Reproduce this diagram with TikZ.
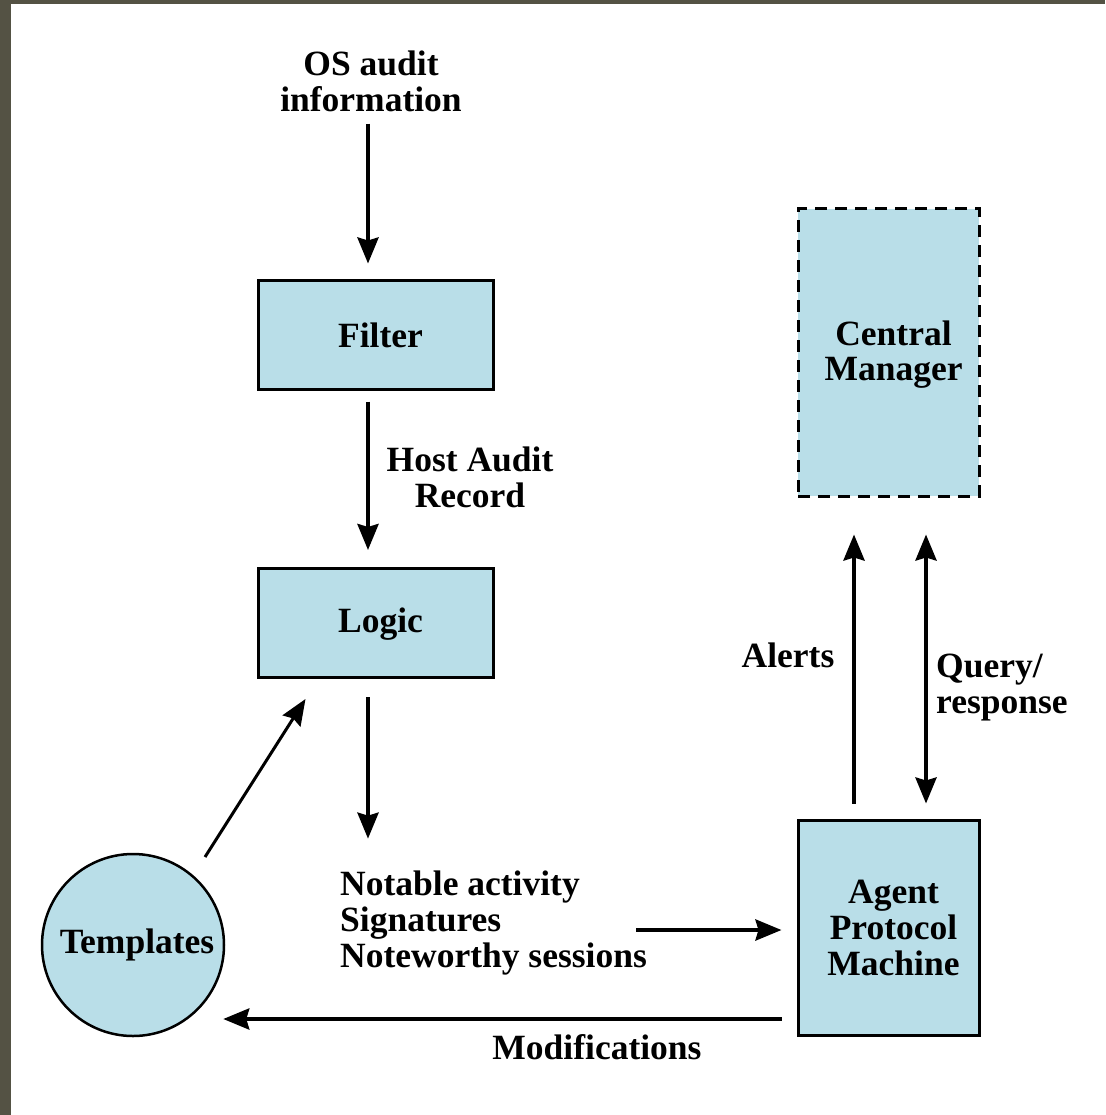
\documentclass[tikz,border=0pt]{standalone}
\usepackage{fontspec}
\setmainfont{Liberation Serif}
\usetikzlibrary{arrows.meta,calc}
\definecolor{boxfill}{RGB}{185,222,232}
\definecolor{frame}{RGB}{84,82,68}
\tikzset{
  lbl/.style={font=\fontsize{35.5}{36}\selectfont\bfseries, inner sep=0pt},
  blk/.style={draw=black, line width=3pt, fill=boxfill, rectangle, inner sep=0pt},
  inlbl/.style={lbl, align=center, xshift=5pt},
  arr/.style={line width=4pt, -{Stealth[length=26pt,width=21pt,inset=3pt]}},
  thinarr/.style={line width=3pt, -{Stealth[length=26pt,width=21pt,inset=3pt]}},
  dbl/.style={line width=4pt, {Stealth[length=26pt,width=21pt,inset=3pt]}-{Stealth[length=26pt,width=21pt,inset=3pt]}},
}
\begin{document}
\begin{tikzpicture}[x=1pt,y=-1pt]
  % page and dark frame strips
  \useasboundingbox (0,0) rectangle (1105,1115);
  \fill[white] (0,0) rectangle (1105,1115);
  \fill[frame] (0,0) rectangle (11,1115);
  \fill[frame] (0,0) rectangle (1105,4.5);

  % blocks (text placed as centred labels, set slightly right of centre)
  \node[blk, minimum width=235pt, minimum height=109pt,
        label={[inlbl, yshift=-1pt]center:Filter}] (filter) at (375.5,334.5) {};
  \node[blk, minimum width=235pt, minimum height=109pt,
        label={[inlbl, yshift=-1pt]center:Logic}] (logic) at (375.5,623) {};
  \node[blk, dashed, dash pattern=on 12pt off 8pt, minimum width=181pt, minimum height=287pt,
        label={[inlbl, yshift=-2pt]center:Central\\[-1pt]Manager}] (central) at (888.5,352.5) {};
  \node[blk, minimum width=181pt, minimum height=215pt,
        label={[inlbl]center:Agent\\Protocol\\Machine}] (agent) at (888.5,927.5) {};
  \node[blk, circle, line width=2.5pt, minimum size=182pt,
        label={[inlbl, xshift=-1pt]center:Templates}] (templates) at (133,945) {};

  % free labels
  \node[lbl, align=center] (os) at (371,81) {OS audit\\information};
  \node[lbl, align=center] (hostaudit) at (470,477) {Host Audit\\Record};
  \node[lbl, align=left, anchor=west] (notable) at (340,923)
       {Notable activity\\Signatures\\Noteworthy sessions};
  \node[lbl] (alerts) at (788,655) {Alerts};
  \node[lbl, align=left, anchor=west] (query) at (936,688) {Query/\\response};
  \node[lbl] (mods) at (597,1047) {Modifications};

  % connectors
  \draw[arr] ($(os.south)+(-3,12)$) -- ($(filter.north)+(-7.5,-15)$);
  \draw[arr] ($(filter.south)+(-7.5,11)$) -- ($(logic.north)+(-7.5,-17)$);
  \draw[arr] ($(logic.south)+(-7.5,18)$) -- ($(notable.north west)+(28,-32)$);
  \draw[arr] ($(notable.east)+(-11,7)$) -- ($(agent.west)+(-15,2.5)$);
  \draw[arr] ($(agent.west)+(-15,91.5)$) -- ($(templates.east)+(-2,74)$);
  \draw[thinarr] ($(templates.center)+(72,-88)$) -- ($(logic.south west)+(49,20)$);
  \draw[arr] ($(agent.north)+(-34.5,-15)$) -- ($(central.south)+(-34.5,37)$);
  \draw[dbl] ($(agent.north)+(37.5,-15)$) -- ($(central.south)+(37.5,37)$);
\end{tikzpicture}
\end{document}
